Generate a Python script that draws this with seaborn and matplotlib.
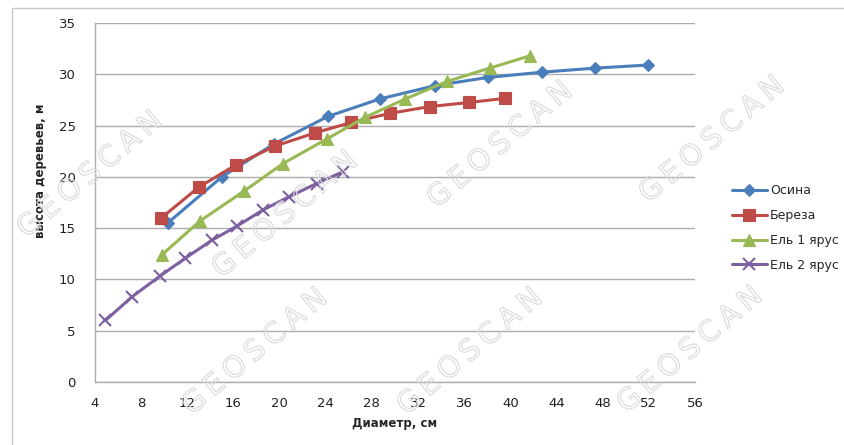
import matplotlib
matplotlib.use("Agg")
import matplotlib.pyplot as plt
import matplotlib.patheffects as pe
from matplotlib.patches import Rectangle
import numpy as np
import pandas as pd
import seaborn as sns

# Height–diameter curves by species
aspen_d = [10.3, 15.0, 19.5, 24.2, 28.7, 33.5, 38.1, 42.7, 47.3, 51.9]
aspen_h = [15.5, 20.0, 23.2, 25.9, 27.6, 28.9, 29.7, 30.2, 30.6, 30.9]

birch_d = [9.7, 13.0, 16.2, 19.6, 23.1, 26.2, 29.6, 33.0, 36.4, 39.5]
birch_h = [15.95, 19.0, 21.15, 23.0, 24.3, 25.3, 26.2, 26.85, 27.25, 27.65]

spruce1_d = [9.8, 13.1, 16.9, 20.3, 24.1, 27.4, 30.9, 34.5, 38.2, 41.7]
spruce1_h = [12.4, 15.7, 18.6, 21.3, 23.7, 25.8, 27.6, 29.3, 30.6, 31.8]

spruce2_d = [4.9, 7.2, 9.6, 11.8, 14.1, 16.3, 18.6, 20.8, 23.2, 25.5]
spruce2_h = [6.0, 8.3, 10.3, 12.05, 13.8, 15.2, 16.8, 18.05, 19.35, 20.5]

series_names = ["Осина", "Береза", "Ель 1 ярус", "Ель 2 ярус"]
x_ticks = list(range(4, 57, 4))
y_ticks = list(range(0, 36, 5))

frames = []
for name, d, h in zip(series_names,
                      [aspen_d, birch_d, spruce1_d, spruce2_d],
                      [aspen_h, birch_h, spruce1_h, spruce2_h]):
    frames.append(pd.DataFrame({"d": d, "h": h, "species": name}))
df = pd.concat(frames, ignore_index=True)

palette = {"Осина": "#4A7EBB", "Береза": "#BE4B48",
           "Ель 1 ярус": "#98B954", "Ель 2 ярус": "#7D60A0"}
markers = {"Осина": "D", "Береза": "s", "Ель 1 ярус": "^", "Ель 2 ярус": "x"}
msize = {"Осина": 6.5, "Береза": 8.5, "Ель 1 ярус": 9, "Ель 2 ярус": 8}

sns.set_style("white")
plt.rcParams["font.family"] = ["DejaVu Sans"]

fig = plt.figure(figsize=(8.45, 4.45), dpi=100)
ax = fig.add_axes([95 / 845, 63 / 445, 600 / 845, 359 / 445])

for name in series_names:
    sub = df[df["species"] == name]
    sns.lineplot(data=sub, x="d", y="h", ax=ax, color=palette[name],
                 marker=markers[name], markersize=msize[name],
                 markeredgewidth=1.5 if name == "Ель 2 ярус" else 0.8,
                 markeredgecolor=palette[name], linewidth=2.2,
                 label=name, sort=False, estimator=None, zorder=3)

ax.set_xlim(4, 56)
ax.set_ylim(0, 35)
ax.set_xticks(x_ticks)
ax.set_yticks(y_ticks)
ax.grid(axis="y", color="#ADADAD", linewidth=1.0, zorder=0)
ax.grid(axis="x", visible=False)
for side in ["top", "right"]:
    ax.spines[side].set_visible(False)
for side in ["left", "bottom"]:
    ax.spines[side].set_color("#ADADAD")
    ax.spines[side].set_linewidth(1.0)
ax.tick_params(axis="both", length=0, labelsize=9.5, colors="#222222")
ax.tick_params(axis="x", pad=11)
ax.tick_params(axis="y", pad=14)

ax.set_xlabel("Диаметр, см", fontsize=8.5, fontweight="bold", labelpad=5)
ax.set_ylabel("высота деревьев, м", fontsize=8.5, fontweight="bold")
ax.yaxis.set_label_coords(-0.08, 0.588)

leg = ax.legend(loc="center left", bbox_to_anchor=(727 / 845, 1 - 228 / 445),
                bbox_transform=fig.transFigure, frameon=False, fontsize=9,
                handlelength=2.8, handletextpad=0.25, labelspacing=0.95,
                borderaxespad=0)

# Outer chart frame
fig.patches.append(Rectangle((12 / 845, -0.1), 1.2, 1 - 8 / 445 + 0.1,
                             transform=fig.transFigure, fill=False,
                             edgecolor="#C8C8C8", linewidth=1.0))

# Tiled watermark
wm_text = "\u2009".join("GEOSCAN")
wm_centers = [(90, 175), (285, 215), (500, 145), (712, 140),
              (255, 352), (470, 352), (690, 350)]
for cx, cy in wm_centers:
    fig.text(cx / 845, 1 - cy / 445, wm_text, fontsize=21, rotation=40,
             ha="center", va="center", color="none",
             path_effects=[pe.Stroke(linewidth=0.8, foreground="#DADADA")],
             zorder=10)

fig.savefig("out.png", dpi=100)
